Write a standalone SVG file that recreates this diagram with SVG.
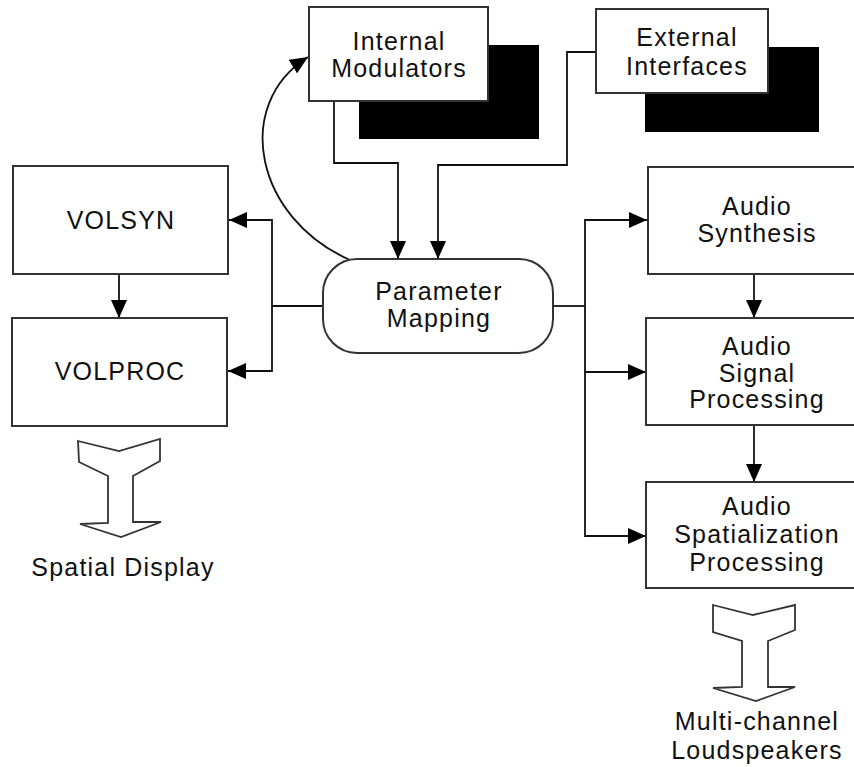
<svg xmlns="http://www.w3.org/2000/svg" width="854" height="767" viewBox="0 0 854 767">
  <style>
    .box { fill: #ffffff; stroke: #333333; stroke-width: 2; }
    .shadow { fill: #000000; }
    .label { font-family: "Liberation Sans", Arial, sans-serif; font-size: 25px; letter-spacing: 1.2px; fill: #111111; text-anchor: middle; }
    .wire { fill: none; stroke: #111111; stroke-width: 1.8; }
    .outlet { fill: #ffffff; stroke: #333333; stroke-width: 1.8; stroke-linejoin: miter; }
  </style>
  <defs>
    <marker id="head" markerUnits="userSpaceOnUse" markerWidth="18" markerHeight="16" refX="18" refY="8" orient="auto">
      <path d="M0,0 L18,8 L0,16 Z" fill="#000000"/>
    </marker>
  </defs>

  <rect width="854" height="767" fill="#ffffff"/>

  <!-- connectors -->
  <g id="connectors">
    <!-- Internal Modulators -> Parameter Mapping -->
    <path class="wire" d="M334,101 V163 H398 V259" marker-end="url(#head)"/>
    <!-- External Interfaces -> Parameter Mapping -->
    <path class="wire" d="M596,52 H567 V165 H438 V259" marker-end="url(#head)"/>
    <!-- Parameter Mapping -> Internal Modulators (feedback) -->
    <path class="wire" d="M350,260 C255,218 232,105 308,57" marker-end="url(#head)"/>
    <!-- Parameter Mapping -> VOLSYN / VOLPROC -->
    <path class="wire" d="M323,306 H272"/>
    <path class="wire" d="M272,306 V220 H229" marker-end="url(#head)"/>
    <path class="wire" d="M272,306 V371 H228" marker-end="url(#head)"/>
    <!-- VOLSYN -> VOLPROC -->
    <path class="wire" d="M119,274 V318" marker-end="url(#head)"/>
    <!-- Parameter Mapping -> audio chain -->
    <path class="wire" d="M553,306 H585"/>
    <path class="wire" d="M585,306 V220 H647" marker-end="url(#head)"/>
    <path class="wire" d="M585,306 V536 H646" marker-end="url(#head)"/>
    <path class="wire" d="M585,372 H646" marker-end="url(#head)"/>
    <!-- Audio Synthesis -> Signal Processing -> Spatialization -->
    <path class="wire" d="M754,274 V318" marker-end="url(#head)"/>
    <path class="wire" d="M754,425 V482" marker-end="url(#head)"/>
  </g>

  <g id="internal-modulators">
    <rect class="shadow" x="359" y="45" width="180" height="94"/>
    <rect class="box" x="309" y="7" width="179" height="94"/>
    <text class="label" x="399" y="50">Internal</text>
    <text class="label" x="399" y="77">Modulators</text>
  </g>

  <g id="external-interfaces">
    <rect class="shadow" x="645" y="47" width="174" height="85"/>
    <rect class="box" x="596" y="9" width="172" height="84"/>
    <text class="label" x="687" y="46">External</text>
    <text class="label" x="687" y="75">Interfaces</text>
  </g>

  <g id="parameter-mapping">
    <rect class="box" x="323" y="259" width="230" height="94" rx="34" ry="34"/>
    <text class="label" x="439" y="300">Parameter</text>
    <text class="label" x="439" y="327">Mapping</text>
  </g>

  <g id="volsyn">
    <rect class="box" x="13" y="166" width="215" height="108"/>
    <text class="label" x="121" y="229">VOLSYN</text>
  </g>

  <g id="volproc">
    <rect class="box" x="12" y="318" width="215" height="108"/>
    <text class="label" x="120" y="380">VOLPROC</text>
  </g>

  <g id="spatial-display">
    <polygon class="outlet" points="78,441 119,451 160,439 160,461 133,476 133,522 161,522 121,537 80,524 108,523 108,476 79,462"/>
    <text class="label" x="123" y="576">Spatial Display</text>
  </g>

  <g id="audio-synthesis">
    <rect class="box" x="648" y="167" width="216" height="107"/>
    <text class="label" x="757" y="215">Audio</text>
    <text class="label" x="757" y="242">Synthesis</text>
  </g>

  <g id="audio-signal-processing">
    <rect class="box" x="646" y="318" width="218" height="107"/>
    <text class="label" x="757" y="355">Audio</text>
    <text class="label" x="757" y="382">Signal</text>
    <text class="label" x="757" y="408">Processing</text>
  </g>

  <g id="audio-spatialization-processing">
    <rect class="box" x="646" y="482" width="218" height="106"/>
    <text class="label" x="757" y="515">Audio</text>
    <text class="label" x="757" y="543">Spatialization</text>
    <text class="label" x="757" y="571">Processing</text>
  </g>

  <g id="loudspeakers">
    <polygon class="outlet" points="713,605 753,615 795,605 795,630 768,641 768,687 795,687 756,701 713,688 742,687 742,641 713,632"/>
    <text class="label" x="757" y="730">Multi-channel</text>
    <text class="label" x="757" y="759">Loudspeakers</text>
  </g>
</svg>
